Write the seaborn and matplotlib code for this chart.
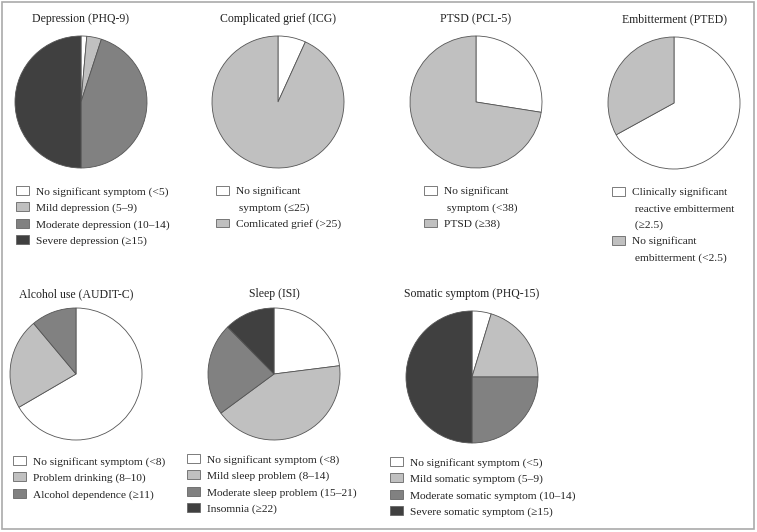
import matplotlib
matplotlib.use("Agg")
import matplotlib.pyplot as plt
import seaborn as sns
from matplotlib.patches import Patch, Rectangle

sns.set_theme(style="white")
plt.rcParams['font.family'] = ['Liberation Serif', 'DejaVu Serif']

# Dữ liệu (%) cho từng thang đo
depression_labels = ["No significant symptom (<5)", "Mild depression (5–9)",
                     "Moderate depression (10–14)", "Severe depression (≥15)"]
depression_vals = [1.4, 3.6, 45.0, 50.0]

grief_labels = ["No significant\n symptom (≤25)", "Comlicated grief (>25)"]
grief_vals = [6.8, 93.2]

ptsd_labels = ["No significant\n symptom (<38)", "PTSD (≥38)"]
ptsd_vals = [27.5, 72.5]

embit_labels = ["Clinically significant\n reactive embitterment\n (≥2.5)",
                "No significant\n embitterment (<2.5)"]
embit_vals = [67.0, 33.0]

alcohol_labels = ["No significant symptom (<8)", "Problem drinking (8–10)",
                  "Alcohol dependence (≥11)"]
alcohol_vals = [66.6, 22.3, 11.1]

sleep_labels = ["No significant symptom (<8)", "Mild sleep problem (8–14)",
                "Moderate sleep problem (15–21)", "Insomnia (≥22)"]
sleep_vals = [23.0, 41.9, 22.7, 12.4]

somatic_labels = ["No significant symptom (<5)", "Mild somatic symptom (5–9)",
                  "Moderate somatic symptom (10–14)", "Severe somatic symptom (≥15)"]
somatic_vals = [4.7, 20.3, 25.0, 50.0]

# Màu xám
grey4 = ["#ffffff", "#c0c0c0", "#818181", "#404040"]
grey3 = ["#ffffff", "#c0c0c0", "#818181"]
white_light = ["#ffffff", "#c0c0c0"]

W, H = 757, 532
fig = plt.figure(figsize=(W / 100, H / 100), dpi=100)
fig.patch.set_facecolor("white")
fig.patches.append(Rectangle((2 / W, 3 / H), 752 / W, 527 / H, transform=fig.transFigure,
                             fill=False, edgecolor="#aaaaaa", linewidth=1.2))

# (tiêu đề, nhãn, giá trị, màu, tâm x, tâm y, tiêu đề y, legend x, legend y)
panels = [
    ("Depression (PHQ-9)", depression_labels, depression_vals, grey4, 81, 102, 19, 16, 186),
    ("Complicated grief (ICG)", grief_labels, grief_vals, white_light, 278, 102, 19, 216, 186),
    ("PTSD (PCL-5)", ptsd_labels, ptsd_vals, white_light, 476, 102, 19, 424, 186),
    ("Embitterment (PTED)", embit_labels, embit_vals, white_light, 674, 103, 19, 612, 187),
    ("Alcohol use (AUDIT-C)", alcohol_labels, alcohol_vals, grey3, 76, 374, 294, 13, 456),
    ("Sleep (ISI)", sleep_labels, sleep_vals, grey4, 274, 374, 294, 187, 454),
    ("Somatic symptom (PHQ-15)", somatic_labels, somatic_vals, grey4, 472, 377, 294, 390, 457),
]

R = 66
for title, labels, vals, cols, cx, cy, ty, lx, ly in panels:
    ax = fig.add_axes([(cx - R) / W, 1 - (cy + R) / H, 2 * R / W, 2 * R / H])
    ax.pie(vals, colors=cols, startangle=90, counterclock=False,
           wedgeprops=dict(edgecolor="#555555", linewidth=0.6))
    ax.set_xlim(-1, 1)
    ax.set_ylim(-1, 1)
    ax.set_aspect("equal")
    ax.axis("off")
    fig.text(cx / W, 1 - ty / H, title, ha="center", va="center", fontsize=8.5, color="#222222")

    # legend: mỗi dòng phụ là một mục riêng không có ô màu
    handles, texts = [], []
    for lab, c in zip(labels, cols):
        lines = lab.split("\n")
        handles.append(Patch(facecolor=c, edgecolor="#666666", linewidth=0.6))
        texts.append(lines[0])
        for extra in lines[1:]:
            handles.append(Patch(facecolor="none", edgecolor="none"))
            texts.append(extra)
    fig.legend(handles, texts, loc="upper left", bbox_to_anchor=(lx / W, 1 - ly / H),
               bbox_transform=fig.transFigure, frameon=False, fontsize=8.2,
               handlelength=1.15, handleheight=0.8, handletextpad=0.6,
               labelspacing=0.52, borderpad=0, borderaxespad=0, labelcolor="#222222")

fig.savefig("out.png", dpi=100, facecolor="white")
